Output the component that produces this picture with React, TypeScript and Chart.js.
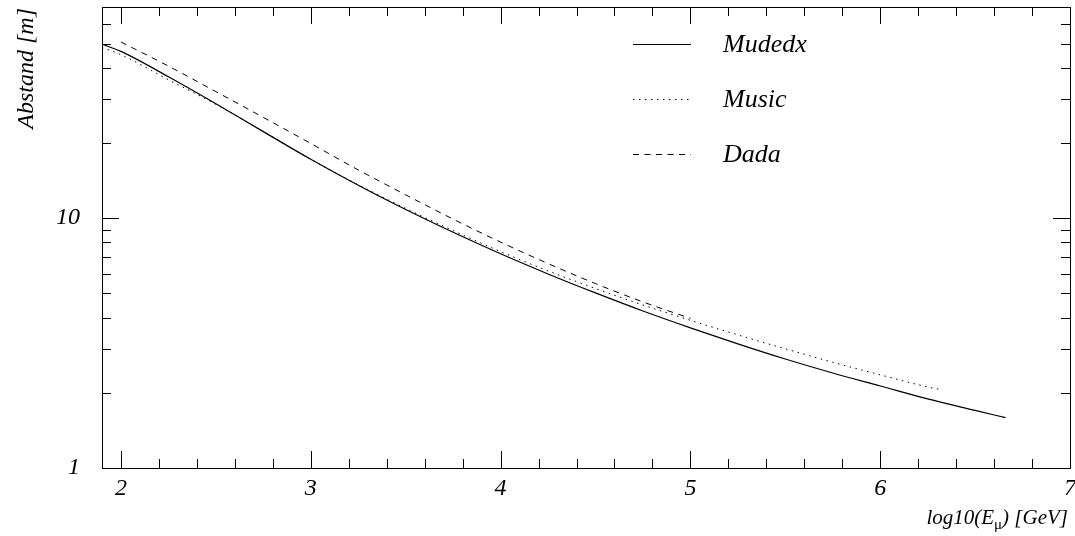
import React, { useEffect, useRef } from "react";
import { Chart, registerables } from "chart.js";

Chart.register(...registerables);

// ---- data ----
const mudedxX = [1.9, 2.0, 2.25, 2.5, 2.75, 3.0, 3.25, 3.5, 3.75, 4.0, 4.25, 4.5, 4.75, 5.0, 5.25, 5.5, 5.75, 6.0, 6.25, 6.5, 6.66];
const mudedxY = [49.7, 46.5, 36.8, 28.7, 22.2, 17.2, 13.54, 10.83, 8.78, 7.2, 5.98, 5.02, 4.25, 3.64, 3.14, 2.73, 2.40, 2.13, 1.89, 1.70, 1.59];

const musicX = [1.9, 2.0, 2.25, 2.5, 2.75, 3.0, 3.25, 3.5, 3.75, 4.0, 4.25, 4.5, 4.75, 5.0, 5.25, 5.5, 5.75, 6.0, 6.25, 6.32];
const musicY = [48.2, 45.1, 35.8, 28.55, 22.2, 17.2, 13.6, 10.93, 8.92, 7.35, 6.15, 5.23, 4.49, 3.90, 3.41, 3.00, 2.65, 2.36, 2.11, 2.06];

const dadaX = [2.0, 2.25, 2.5, 2.75, 3.0, 3.25, 3.5, 3.75, 4.0, 4.25, 4.5, 4.75, 5.0];
const dadaY = [50.7, 40.6, 32.1, 25.3, 19.9, 15.6, 12.4, 9.91, 8.02, 6.58, 5.47, 4.62, 3.97];

const seriesLabels = ["Mudedx", "Music", "Dada"];
const xTickLabels = [2, 3, 4, 5, 6, 7];
const yTickLabels = [1, 10];
const xMin = 1.9;
const xMax = 7;
const yMin = 1;
const yMax = 70;
const yTitle = "Abstand [m]";
const xTitleMain = "log10(E";
const xTitleSub = "μ";
const xTitleEnd = ") [GeV]";

const FONT_FAMILY = '"Liberation Serif", "Times New Roman", serif';

const toPoints = (xs: number[], ys: number[]) => xs.map((x, i) => ({ x, y: ys[i] }));

const decorPlugin = {
  id: "decor",
  afterDraw(chart: any) {
    const { ctx, chartArea } = chart;
    const { left, right, top, bottom } = chartArea;
    const xs = chart.scales.x;
    const ys = chart.scales.y;
    ctx.save();
    ctx.strokeStyle = "#000";
    ctx.lineWidth = 1;
    ctx.setLineDash([]);
    // frame
    ctx.strokeRect(Math.round(left) + 0.5, Math.round(top) + 0.5, Math.round(right - left), Math.round(bottom - top));

    const MAJ = 17;
    const MIN = 9;
    // x ticks (bottom + top)
    for (let i = 0; i <= 25; i++) {
      const v = Math.round((2 + i * 0.2) * 10) / 10;
      if (v > xMax + 1e-9) break;
      const major = xTickLabels.includes(v);
      const len = major ? MAJ : MIN;
      const px = Math.round(xs.getPixelForValue(v)) + 0.5;
      ctx.beginPath();
      ctx.moveTo(px, bottom);
      ctx.lineTo(px, bottom - len);
      ctx.moveTo(px, top);
      ctx.lineTo(px, top + len);
      ctx.stroke();
    }
    // y ticks (left + right)
    for (const dec of [1, 10]) {
      for (let k = 1; k <= 9; k++) {
        const v = k * dec;
        if (v > yMax) break;
        const major = yTickLabels.includes(v);
        const len = major ? MAJ : MIN;
        const py = Math.round(ys.getPixelForValue(v)) + 0.5;
        ctx.beginPath();
        ctx.moveTo(left, py);
        ctx.lineTo(left + len, py);
        ctx.moveTo(right, py);
        ctx.lineTo(right - len, py);
        ctx.stroke();
      }
    }

    ctx.fillStyle = "#000";
    // y title (rotated)
    ctx.save();
    ctx.font = `italic 24px ${FONT_FAMILY}`;
    ctx.translate(33, 8);
    ctx.rotate(-Math.PI / 2);
    ctx.textAlign = "right";
    ctx.textBaseline = "alphabetic";
    ctx.fillText(yTitle, 0, 0);
    ctx.restore();

    // x title with subscript
    const mainFont = `italic 21px ${FONT_FAMILY}`;
    const subFont = `15px ${FONT_FAMILY}`;
    ctx.font = mainFont;
    const w1 = ctx.measureText(xTitleMain).width;
    const w3 = ctx.measureText(xTitleEnd).width;
    ctx.font = subFont;
    const w2 = ctx.measureText(xTitleSub).width;
    const rightX = 1068;
    const baseY = 524;
    let sx = rightX - (w1 + w2 + w3);
    ctx.textAlign = "left";
    ctx.textBaseline = "alphabetic";
    ctx.font = mainFont;
    ctx.fillText(xTitleMain, sx, baseY);
    sx += w1;
    ctx.font = subFont;
    ctx.fillText(xTitleSub, sx, baseY + 5);
    sx += w2;
    ctx.font = mainFont;
    ctx.fillText(xTitleEnd, sx, baseY);

    // legend
    const legendYs = [44, 99, 154];
    chart.data.datasets.forEach((ds: any, i: number) => {
      const ly = legendYs[i] + 0.5;
      ctx.save();
      ctx.lineWidth = ds.borderWidth;
      ctx.setLineDash(ds.borderDash || []);
      ctx.beginPath();
      ctx.moveTo(633, ly);
      ctx.lineTo(691, ly);
      ctx.stroke();
      ctx.restore();
      ctx.font = `italic 26px ${FONT_FAMILY}`;
      ctx.textAlign = "left";
      ctx.textBaseline = "alphabetic";
      ctx.fillText(ds.label, 723, legendYs[i] + 8);
    });
    ctx.restore();
  },
};

export default function App() {
  const canvasRef = useRef<HTMLCanvasElement | null>(null);

  useEffect(() => {
    if (!canvasRef.current) return;
    const tickFont = { family: FONT_FAMILY, style: "italic" as const, size: 24 };
    const chart = new Chart(canvasRef.current, {
      type: "line",
      data: {
        datasets: [
          {
            label: seriesLabels[0],
            data: toPoints(mudedxX, mudedxY),
            borderColor: "#000",
            borderWidth: 1.2,
            borderDash: [],
            pointRadius: 0,
            cubicInterpolationMode: "monotone",
          },
          {
            label: seriesLabels[1],
            data: toPoints(musicX, musicY),
            borderColor: "#000",
            borderWidth: 1,
            borderDash: [1.5, 4.5],
            pointRadius: 0,
            cubicInterpolationMode: "monotone",
          },
          {
            label: seriesLabels[2],
            data: toPoints(dadaX, dadaY),
            borderColor: "#000",
            borderWidth: 1,
            borderDash: [6, 5.5],
            pointRadius: 0,
            cubicInterpolationMode: "monotone",
          },
        ],
      },
      options: {
        responsive: false,
        animation: false,
        layout: { padding: { top: 7, right: 5, left: 0, bottom: 0 } },
        plugins: { legend: { display: false }, tooltip: { enabled: false } },
        scales: {
          x: {
            type: "linear",
            min: xMin,
            max: xMax,
            afterBuildTicks: (s: any) => {
              s.ticks = xTickLabels.map((v) => ({ value: v }));
            },
            ticks: {
              font: tickFont,
              color: "#000",
              padding: 6,
              maxRotation: 0,
              autoSkip: false,
              callback: (v: any) => String(v),
            },
            grid: { display: false, drawTicks: false },
            border: { display: false },
            afterFit: (s: any) => {
              s.height = 68;
              s.paddingLeft = 0;
              s.paddingRight = 0;
            },
          },
          y: {
            type: "logarithmic",
            min: yMin,
            max: yMax,
            afterBuildTicks: (s: any) => {
              s.ticks = yTickLabels.map((v) => ({ value: v }));
            },
            ticks: {
              font: tickFont,
              color: "#000",
              padding: 22,
              autoSkip: false,
              callback: (v: any) => String(v),
            },
            grid: { display: false, drawTicks: false },
            border: { display: false },
            afterFit: (s: any) => {
              s.width = 102;
              s.paddingTop = 0;
              s.paddingBottom = 0;
            },
          },
        },
      } as any,
      plugins: [decorPlugin],
    });
    return () => chart.destroy();
  }, []);

  return (
    <div style={{ position: "absolute", left: 0, top: 0, width: 1075, height: 536, background: "#fff" }}>
      <canvas ref={canvasRef} width={1075} height={536} />
    </div>
  );
}
